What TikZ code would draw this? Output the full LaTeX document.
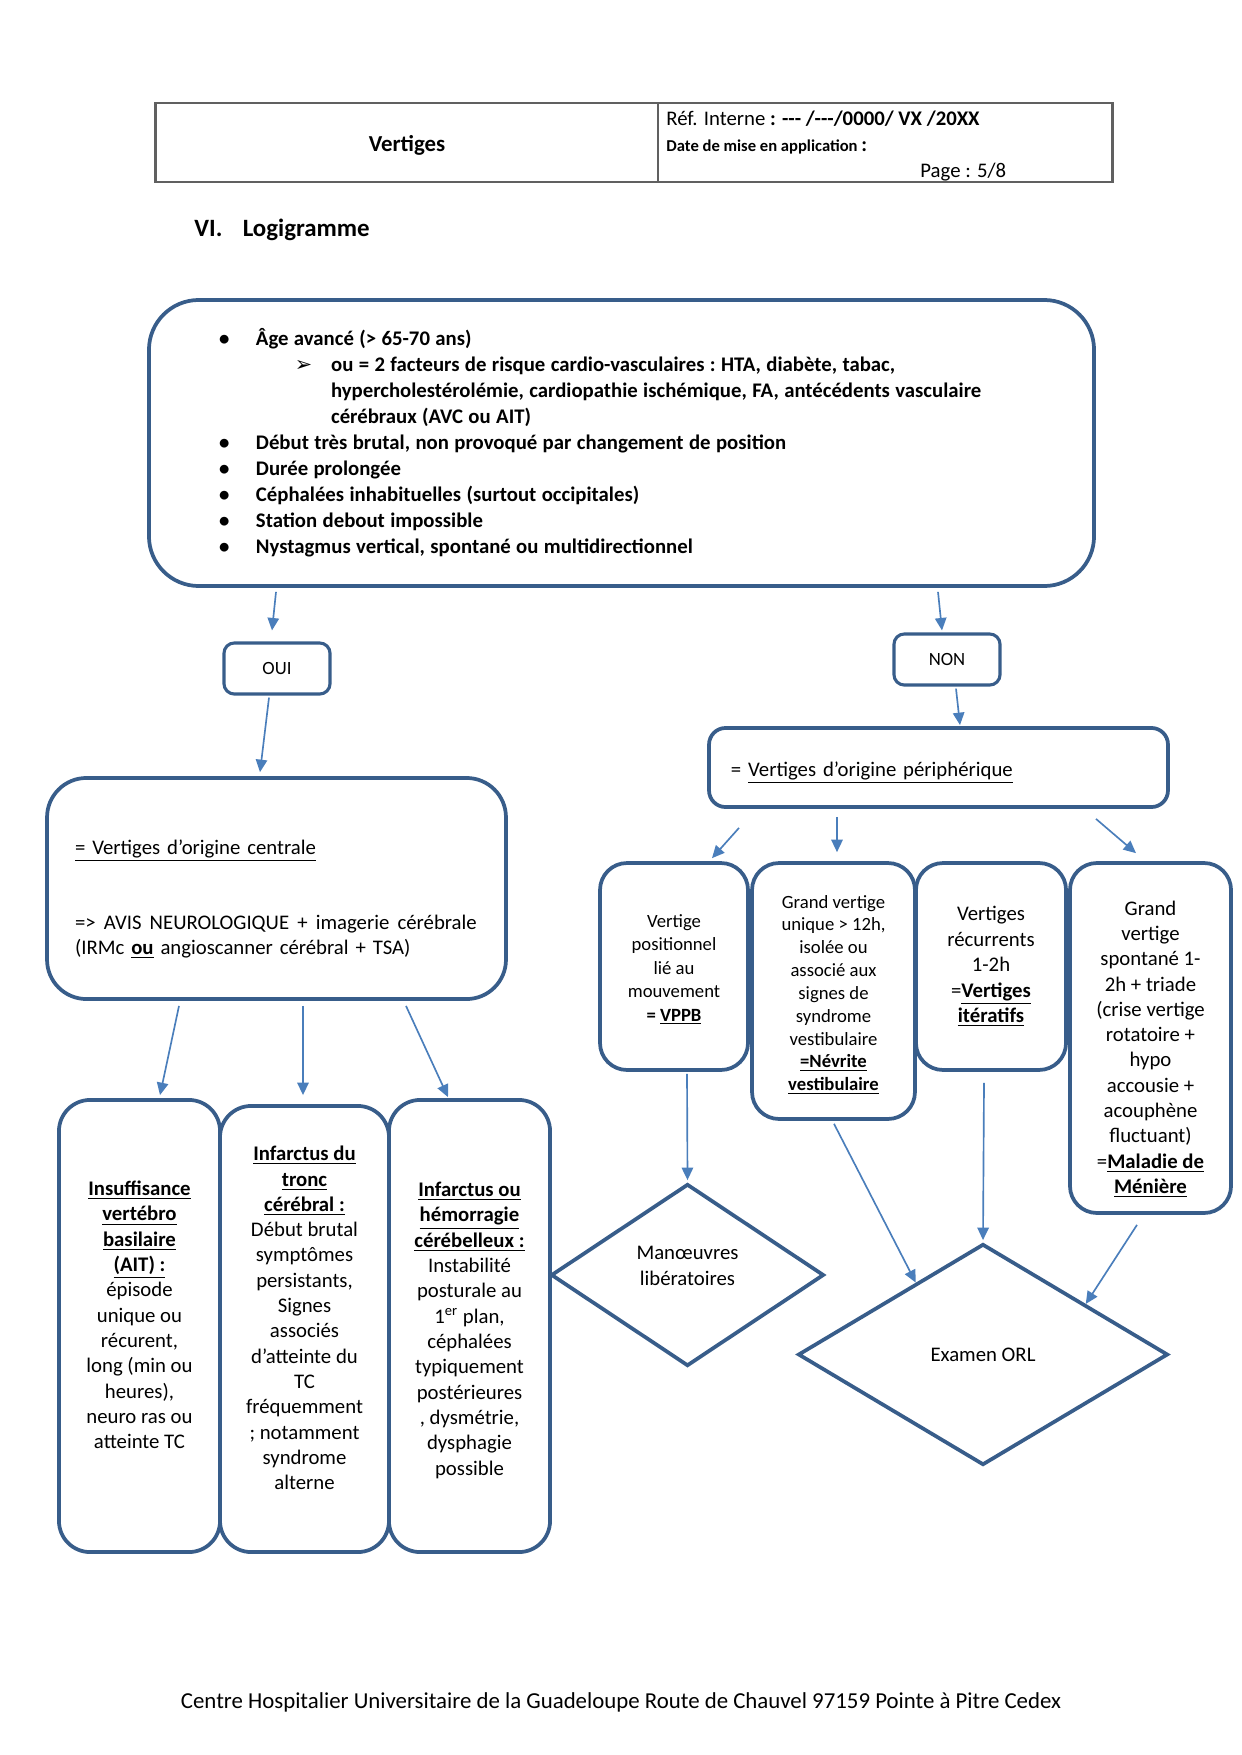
\documentclass[tikz,border=0pt]{standalone}
\usepackage{fontspec}
\setmainfont{Carlito}
\newfontfamily\dejavu{DejaVu Sans}
\usetikzlibrary{positioning, calc, shapes.geometric, arrows.meta}

\definecolor{boxblue}{HTML}{385D8A}
\definecolor{arrowblue}{HTML}{4A7EBB}
\definecolor{framegray}{HTML}{606060}

\newcommand{\ulbf}[1]{\underline{\textbf{#1}}}
\newcommand{\bul}{\makebox[17.8pt][l]{\textbullet}}
\newcommand{\subbul}{\hspace*{36.6pt}\makebox[17.4pt][l]{\dejavu ➢}}
\newcommand{\subind}{\hspace*{54pt}}
\newcommand{\tightspace}{\frenchspacing\spaceskip=2.6pt plus 0.5pt minus 0.2pt\relax}
% push text down (tall first line) or up (deep last line)
\newcommand{\pushdown}[1]{\rule{0pt}{#1}}
\newcommand{\pushup}[1]{\rule[-#1]{0pt}{#1}}

\begin{document}
\begin{tikzpicture}[
    x=0.48175pt, y=-0.48175pt,
    box/.style={
        draw=boxblue,
        line width=1.8pt,
        align=center,
        inner sep=2pt,
        font=\fontsize{10pt}{12.2pt}\selectfont,
    },
    critbox/.style={
        box,
        rounded corners=24pt,
        minimum width=455.3pt,
        minimum height=137.8pt,
        font=\fontsize{10pt}{12.5pt}\selectfont\bfseries,
    },
    answer/.style={
        box,
        line width=1.5pt,
        rounded corners=5pt,
        minimum width=51.1pt,
        minimum height=24.6pt,
        font=\fontsize{9pt}{11pt}\selectfont,
    },
    colbox/.style={
        box,
        rounded corners=15pt,
    },
    choice/.style={
        draw=boxblue,
        line width=1.8pt,
        diamond,
        inner sep=0pt,
        align=center,
        font=\fontsize{10pt}{12.5pt}\selectfont,
    },
    arrow/.style={
        -{Triangle[length=6pt,width=5.5pt]},
        draw=arrowblue,
        line width=0.8pt,
    },
]
    \useasboundingbox (0,0) rectangle (1241,1755);

    % header
    \draw[framegray, line width=1pt] (155.5,103) rectangle (1112.5,182);
    \draw[framegray, line width=1pt] (658,103) -- (658,182);
    \node[font=\fontsize{11pt}{13pt}\selectfont\bfseries] (title) at (407,145.5) {Vertiges};
    \node[anchor=west, inner sep=0pt, font=\fontsize{10pt}{12pt}\selectfont] (ref) at (666,118.5)
        {Réf. Interne \textbf{: -{}-{}- /-{}-{}-/0000/ VX /20XX}};
    \node[anchor=west, inner sep=0pt, font=\fontsize{8pt}{10pt}\selectfont\bfseries] (date) at (666,147)
        {Date de mise en application {\fontsize{10pt}{12pt}\selectfont :}};
    \node[anchor=west, inner sep=0pt, font=\fontsize{10pt}{12pt}\selectfont] (page) at (920,172) {Page : 5/8};
    \node[anchor=west, inner sep=0pt, font=\fontsize{12pt}{14pt}\selectfont\bfseries] (sec) at (194,230)
        {VI.\hspace{9.8pt}Logigramme};

    % criteria
    \node[critbox, text width=387.8pt, align=left] (crit) at (621.5,443) {\tightspace
        \bul Âge avancé (> 65-70 ans)\\
        \subbul ou = 2 facteurs de risque cardio-vasculaires : HTA, diabète, tabac,\\
        \subind hypercholestérolémie, cardiopathie ischémique, FA, antécédents vasculaire\\
        \subind cérébraux (AVC ou AIT)\\
        \bul Début très brutal, non provoqué par changement de position\\
        \bul Durée prolongée\\
        \bul Céphalées inhabituelles (surtout occipitales)\\
        \bul Station debout impossible\\
        \bul Nystagmus vertical, spontané ou multidirectionnel};

    \node[answer] (oui) at (277,668.5) {OUI};
    \node[answer] (non) at (947,659.5) {NON};

    % central branch
    \node[box, rounded corners=19pt, minimum width=221.1pt, minimum height=106.5pt,
          text width=194.1pt, align=left] (central) at (276.5,888.5) {%
        \pushdown{17.5pt}\underline{= Vertiges d’origine centrale}\\[24pt]
        \makebox[193.5pt][l]{=>\hfill AVIS\hfill NEUROLOGIQUE\hfill +\hfill imagerie\hfill cérébrale}\\
        (IRMc \ulbf{ou} angioscanner cérébral + TSA)};

    \node[colbox, minimum width=77.6pt, minimum height=217.8pt] (ivb) at (139.5,1326) {%
        \ulbf{Insuffisance}\\\ulbf{vertébro}\\\ulbf{basilaire}\\\ulbf{(AIT) :}\\
        épisode\\unique ou\\récurent,\\long (min ou\\heures),\\neuro ras ou\\atteinte TC\pushup{10.7pt}};
    \node[colbox, minimum width=81.4pt, minimum height=214.9pt] (tronc) at (304.5,1329) {%
        \ulbf{Infarctus du}\\\ulbf{tronc}\\\ulbf{cérébral :}\\
        Début brutal\\symptômes\\persistants,\\Signes\\associés\\d’atteinte du\\TC\\
        fréquemment\\; notamment\\syndrome\\alterne\pushup{10.6pt}};
    \node[colbox, minimum width=77.6pt, minimum height=217.8pt] (cereb) at (469.5,1326) {%
        \pushdown{11pt}\ulbf{Infarctus ou}\\\ulbf{hémorragie}\\\ulbf{cérébelleux :}\\
        Instabilité\\posturale au\\1\textsuperscript{er} plan,\\céphalées\\typiquement\\
        postérieures\\, dysmétrie,\\dysphagie\\possible};

    % peripheral branch
    \node[box, rounded corners=8pt, minimum width=221.1pt, minimum height=38.1pt,
          text width=200pt, align=left] (periph) at (938.5,767.5)
        {\pushdown{12.3pt}= \underline{Vertiges d’origine périphérique}};

    \node[colbox, rounded corners=13pt, minimum width=71.3pt, minimum height=99.7pt,
          font=\fontsize{9pt}{11.3pt}\selectfont] (vppb) at (674,966.5) {%
        \pushdown{9.3pt}Vertige\\positionnel\\lié au\\mouvement\\\textbf{= \underline{VPPB}}};
    \node[colbox, rounded corners=13pt, minimum width=78.5pt, minimum height=123.3pt,
          font=\fontsize{9pt}{11pt}\selectfont] (nevrite) at (833.5,991) {%
        \pushdown{10.1pt}Grand vertige\\unique > 12h,\\isolée ou\\associé aux\\signes de\\syndrome\\
        vestibulaire\\\ulbf{=Névrite}\\\ulbf{vestibulaire}};
    \node[colbox, rounded corners=13pt, minimum width=72.3pt, minimum height=99.7pt,
          font=\fontsize{10pt}{12.3pt}\selectfont] (iteratifs) at (991,966.5) {%
        Vertiges\\récurrents\\1-2h\\=\ulbf{Vertiges}\\\ulbf{itératifs}};
    \node[colbox, rounded corners=13pt, minimum width=77.6pt, minimum height=168.6pt] (meniere) at (1150.5,1038) {%
        \pushdown{17.8pt}Grand\\vertige\\spontané 1-\\2h + triade\\(crise vertige\\rotatoire +\\hypo\\
        accousie +\\acouphène\\fluctuant)\\=\ulbf{Maladie de}\\\ulbf{Ménière}};

    \node[choice, minimum width=131.5pt, minimum height=87.7pt] (manoeuvres) at (687.5,1275)
        {Manœuvres\\libératoires\pushup{8.7pt}};
    \node[choice, minimum width=178.2pt, minimum height=106.5pt] (orl) at (983,1354.5) {Examen ORL};

    % footer
    \node[font=\fontsize{11pt}{13pt}\selectfont] (footer) at (621,1702.5)
        {Centre Hospitalier Universitaire de la Guadeloupe Route de Chauvel 97159 Pointe à Pitre Cedex};

    % arrows
    \draw[arrow] ($(crit.south)+(-345.5,4)$) -- ($(oui.north)+(-5,-11)$);
    \draw[arrow] ($(crit.south)+(316.5,4)$) -- ($(non.north)+(-5,-2)$);
    \draw[arrow] ($(oui.south)+(-8,2)$) -- ($(central.north)+(-16.5,-4)$);
    \draw[arrow] ($(non.south)+(9,2)$) -- ($(periph.north)+(21.5,-1)$);
    \draw[arrow] ($(periph.south)+(-199.5,19)$) -- ($(vppb.north)+(38,-3)$);
    \draw[arrow] ($(periph.south)+(-101.5,8)$) -- ($(nevrite.north)+(3.5,-9)$);
    \draw[arrow] ($(periph.south)+(157.5,10)$) -- ($(meniere.north)+(-14.5,-8)$);
    \draw[arrow] ($(central.south)+(-97.5,5)$) -- ($(ivb.north)+(20.5,-3)$);
    \draw[arrow] ($(central.south)+(26.5,5)$) -- ($(tronc.north)+(-1.5,-9)$);
    \draw[arrow] ($(central.south)+(129.5,5)$) -- ($(cereb.north)+(-21.5,-1)$);
    \draw[arrow] ($(vppb.south)+(13,2)$) -- ($(manoeuvres.north)+(0,-2)$);
    \draw[arrow] ($(nevrite.south)+(0.5,3)$) -- ($(orl.north)!0.36!(orl.west)$);
    \draw[arrow] ($(iteratifs.south)+(-7,11)$) -- ($(orl.north)+(0,-2)$);
    \draw[arrow] ($(meniere.south)+(-13.5,10)$) -- ($(orl.north)!0.55!(orl.east)$);

\end{tikzpicture}
\end{document}
